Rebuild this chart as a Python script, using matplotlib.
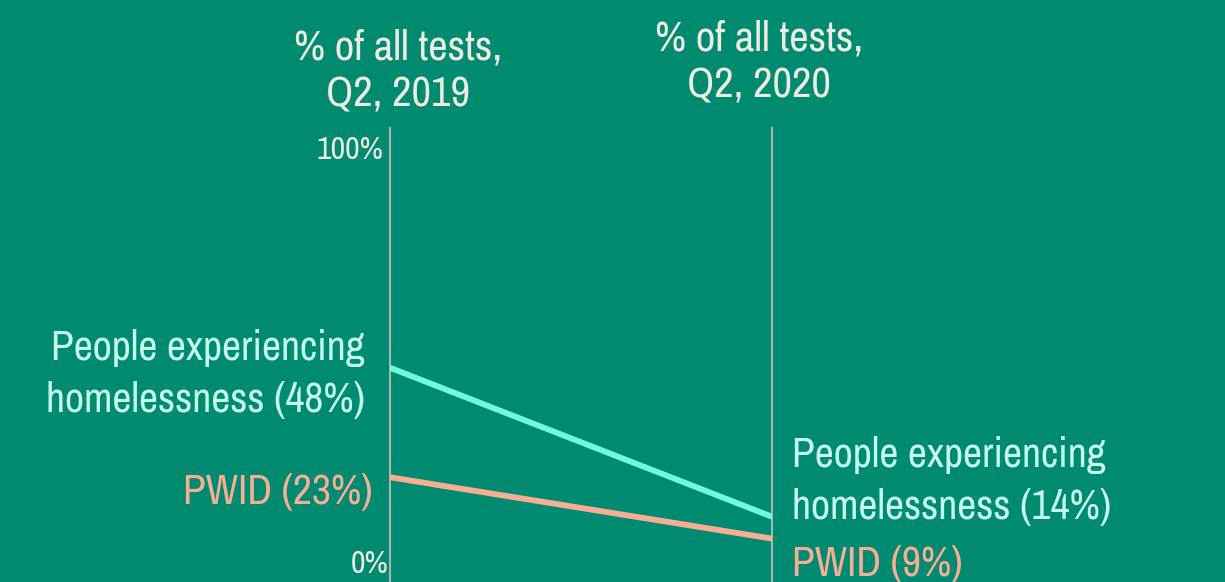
import matplotlib.pyplot as plt
from matplotlib import font_manager

periods = ['% of all tests,\nQ2, 2019', '% of all tests,\nQ2, 2020']
homeless = [48, 14]
pwid = [23, 9]
homeless_labels = ['People experiencing\nhomelessness (48%)', 'People experiencing\nhomelessness (14%)']
pwid_labels = ['PWID (23%)', 'PWID (9%)']
ytick_labels = ['0%', '100%']

bg = '#008A6F'
c_home = '#6FFCDC'
c_home_txt = '#C4FBEE'
c_pwid = '#F7AE95'
c_txt = '#EEEBE2'
c_axis = '#A8B6AE'

names = {f.name for f in font_manager.fontManager.ttflist}
fam = 'DejaVu Sans'
for cand in ['Archivo Narrow', 'Roboto Condensed', 'Liberation Sans Narrow']:
    if cand in names:
        fam = cand
        break
plt.rcParams['font.family'] = [fam, 'DejaVu Sans']

fig = plt.figure(figsize=(12.25, 5.82), dpi=100, facecolor=bg)
ax = fig.add_axes([390/1225, 0, 382/1225, (582-128)/582])
ax.set_facecolor(bg)
ax.set_xlim(0, 1)
ax.set_ylim(-0.9, 102.7)
ax.axis('off')

for x in [0, 1]:
    ax.plot([x, x], [-0.9, 102.7], color=c_axis, lw=1.5, clip_on=False, zorder=1)

xs = [0, 1]
ax.plot(xs, homeless, color=c_home, lw=4.2, solid_capstyle='butt', zorder=3)
ax.plot(xs, pwid, color=c_pwid, lw=4.2, solid_capstyle='butt', zorder=3)

# axis labels
ax.annotate(ytick_labels[1], (0, 100), xytext=(-7, -10), textcoords='offset pixels',
            ha='right', va='center', fontsize=23, color=c_txt)
ax.annotate(ytick_labels[0], (0, 0), xytext=(-2, 14), textcoords='offset pixels',
            ha='right', va='center', fontsize=23, color=c_txt)

# column headers
for x, t, dx, dy in zip(xs, periods, [8, -13], [57, 66]):
    ax.annotate(t, (x, 102.7), xytext=(dx, dy), textcoords='offset pixels',
                ha='center', va='center', fontsize=30.7, color=c_txt, linespacing=1.28,
                annotation_clip=False)

# series labels
ax.annotate(homeless_labels[0], (0, homeless[0]), xytext=(-25, -6), textcoords='offset pixels',
            ha='right', va='center', fontsize=30, color=c_home_txt, linespacing=1.45)
ax.annotate(pwid_labels[0], (0, pwid[0]), xytext=(-17, -15), textcoords='offset pixels',
            ha='right', va='center', fontsize=30, color=c_pwid)
ax.annotate(homeless_labels[1], (1, homeless[1]), xytext=(20, 36), textcoords='offset pixels',
            ha='left', va='center', fontsize=30, color=c_home_txt, linespacing=1.45,
            annotation_clip=False)
ax.annotate(pwid_labels[1], (1, pwid[1]), xytext=(20, -25), textcoords='offset pixels',
            ha='left', va='center', fontsize=30, color=c_pwid, annotation_clip=False)

fig.savefig('out.png', dpi=100, facecolor=bg)
